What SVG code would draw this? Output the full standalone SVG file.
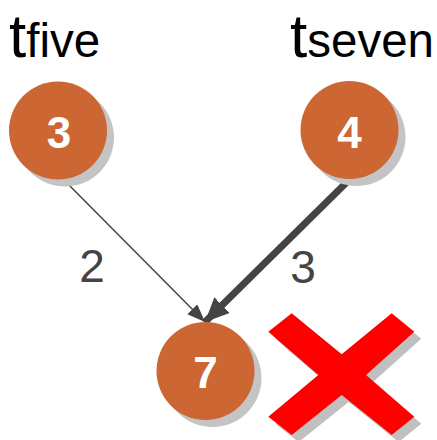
<svg xmlns="http://www.w3.org/2000/svg" width="437" height="440" viewBox="0 0 437 440">
<style>
.shadow{fill:#c4c4c4}
.node{fill:#cc6633}
.num{font-family:"Liberation Sans",Arial,sans-serif;font-weight:bold;font-size:44px;fill:#ffffff;text-anchor:middle}
.title{font-family:"Liberation Sans",Arial,sans-serif;fill:#000000}
.elabel{font-family:"Liberation Sans",Arial,sans-serif;font-size:46px;fill:#444444;text-anchor:middle}
.edge{stroke:#444444;fill:none}
</style>
<defs>
<marker id="ahThin" markerUnits="userSpaceOnUse" markerWidth="20" markerHeight="16" refX="18" refY="7" orient="auto">
<path d="M0,0 L18,7 L0,14 Z" fill="#444444"/>
</marker>
<marker id="ahThick" markerUnits="userSpaceOnUse" markerWidth="26" markerHeight="24" refX="24" refY="11" orient="auto">
<path d="M0,0 L24,11 L0,22 Z" fill="#444444"/>
</marker>
</defs>
<g id="labels">
<text class="title" x="9" y="57"><tspan font-size="62">t</tspan><tspan font-size="47.5">five</tspan></text>
<text class="title" x="290" y="57"><tspan font-size="62">t</tspan><tspan font-size="47.5">seven</tspan></text>
</g>
<g id="edges">
<line class="edge" x1="62" y1="178" x2="205" y2="322" stroke-width="1.5" marker-end="url(#ahThin)"/>
<line class="edge" x1="349" y1="180" x2="205" y2="322" stroke-width="7" marker-end="url(#ahThick)"/>
<text class="elabel" x="92" y="282">2</text>
<text class="elabel" x="303" y="283">3</text>
</g>
<g id="node3">
<circle class="shadow" cx="65" cy="137.5" r="49"/>
<circle class="node" cx="58" cy="130.5" r="49"/>
<text class="num" x="59" y="148">3</text>
</g>
<g id="node4">
<circle class="shadow" cx="356.5" cy="137" r="49"/>
<circle class="node" cx="349.5" cy="130" r="49"/>
<text class="num" x="349.5" y="148">4</text>
</g>
<g id="node7">
<circle class="shadow" cx="212.5" cy="378" r="49"/>
<circle class="node" cx="205.5" cy="371" r="49"/>
<text class="num" x="205.5" y="388">7</text>
</g>
<g id="cross">
<polygon fill="#c0c0c0" transform="translate(7,7)" points="291.7,313.3 341.7,354.3 391.7,313.3 414.3,331.7 366,375 414.3,416.7 391.7,435 341.7,395 291.7,435 268.3,416.7 318.3,375 268.3,331.7"/>
<polygon fill="#ff0000" points="291.7,313.3 341.7,354.3 391.7,313.3 414.3,331.7 366,375 414.3,416.7 391.7,435 341.7,395 291.7,435 268.3,416.7 318.3,375 268.3,331.7"/>
</g>
</svg>
